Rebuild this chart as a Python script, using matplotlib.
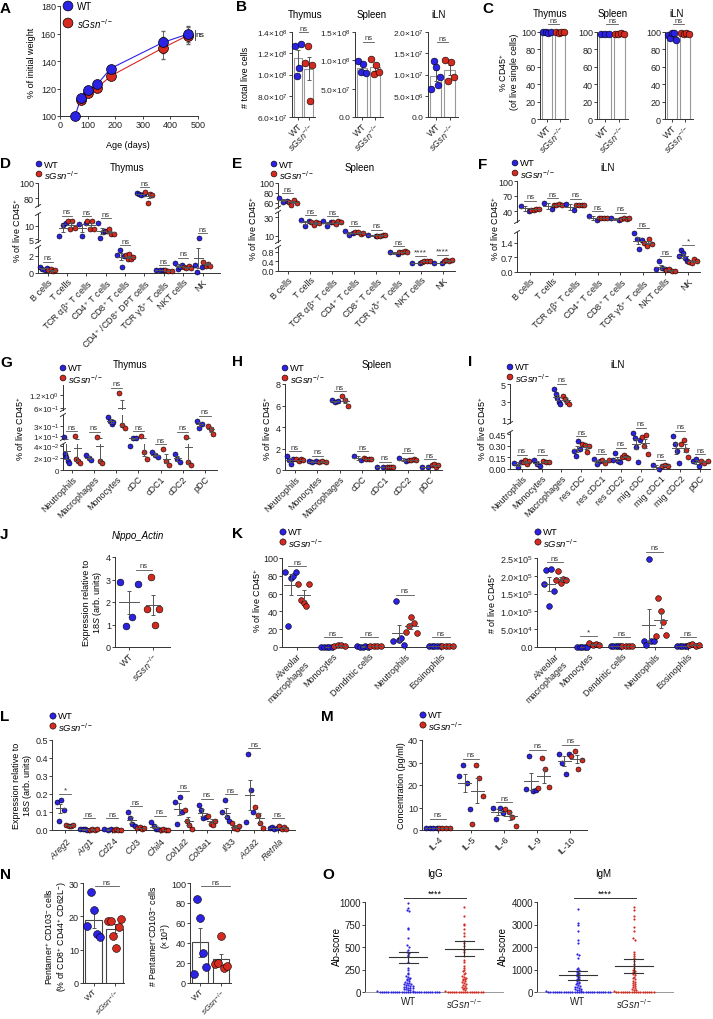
import numpy as np
import matplotlib

matplotlib.use("Agg")
import matplotlib.pyplot as plt

W, H = 713, 1020
WT_C = "#2b22e3"
KO_C = "#d52a1f"
GREY = "#555555"

plt.rcParams["font.family"] = ["Liberation Sans", "DejaVu Sans"]
plt.rcParams["mathtext.fontset"] = "custom"
plt.rcParams["mathtext.rm"] = "Liberation Sans"
plt.rcParams["mathtext.it"] = "Liberation Sans:italic"
plt.rcParams["mathtext.bf"] = "Liberation Sans:bold"
plt.rcParams["mathtext.fallback"] = "stixsans"
plt.rcParams["font.size"] = 6.5
plt.rcParams["axes.linewidth"] = 0.7

KO = r"$\mathit{sGsn}^{-/-}$"
POS = "$^{+}$"

# ---------------- data ----------------
# A: body weight
age_wt = [55, 75, 103, 135, 183, 373, 462]
weight_wt = [100, 113, 119, 123, 134.5, 153.5, 159.5]
weight_wt_sem = [0, 1, 1, 1, 1, 8, 6]
age_ko = [75, 103, 135, 183, 373, 462]
weight_ko = [112, 117, 120.5, 129, 149.5, 158.5]
weight_ko_sem = [1, 1, 1, 1, 8, 6]

# B: total live cells
organs = ["Thymus", "Spleen", "iLN"]
live_wt = [[1.27e8, 0.99e8, 1.06e8, 1.29e8],
           [0.98e8, 0.80e8, 0.93e8, 0.78e8],
           [0.67e7, 1.32e7, 1.17e7, 0.75e7, 0.95e7]]
live_ko = [[1.11e8, 1.27e8, 0.75e8, 1.09e8],
           [1.03e8, 0.76e8, 0.92e8, 0.79e8],
           [1.35e7, 0.85e7, 1.30e7, 0.93e7]]

# C: % CD45+
cd45_wt = [[99.6, 99.5, 99.4, 99.6], [97.5, 97.2, 97.8], [96, 93, 99, 98.5, 91]]
cd45_ko = [[99.5, 99.4, 99.6, 99.5], [97.4, 97.8, 98.6, 97.3], [98.5, 97.8, 99.2, 97.5]]

# D: thymus lymphocytes
cats_d = ["B cells", "T cells", "TCR αβ" + POS + " T cells", "CD4" + POS + " T cells",
          "CD8" + POS + " T cells", "CD4" + POS + " /CD8" + POS + " DPT cells",
          "TCR γδ" + POS + " T cells", "NKT cells", "NK"]
d_wt = [[0.75, 0.45, 0.35, 0.6], [6.3, 10.5, 11.0], [10.6, 6.3, 11.0], [11.0, 5.4, 7.8, 8.0],
        [2.1, 2.6, 0.75, 2.0], [87, 85, 84.5, 86], [0.3, 0.3, 0.3], [1.2, 0.5, 0.75, 0.9],
        [0.9, 0.15, 5.2, 0.7]]
d_ko = [[0.3, 0.45, 0.25, 0.3], [12.0, 9.0, 12.0, 9.2], [11.8, 9.0, 11.8, 9.0], [8.2, 9.0, 6.8, 6.8],
        [2.1, 1.6, 2.2, 1.6, 1.8], [88, 74, 85.5, 84.5], [0.3, 0.25, 0.25], [0.75, 0.55, 0.8, 0.6],
        [1.3, 0.8, 1.0, 0.85]]
d_sig = ["ns"] * 9

# F: iLN lymphocytes (also the category set of E)
cats_f = ["B cells", "T cells", "TCR αβ" + POS + " T cells", "CD4" + POS + " T cells",
          "CD8" + POS + " T cells", "TCR γδ" + POS + " T cells", "NKT cells", "NK"]
f_wt = [[51, 40], [56, 45], [55, 43], [30, 22], [27, 22], [1.85, 1.55, 1.07, 1.5],
        [0.15, 0.52, 0.2, 0.13], [0.75, 1.05, 0.88, 0.65, 0.5]]
f_ko = [[43, 43, 44, 43.5], [52, 53, 53.5, 52], [52, 53, 51.5, 52], [27, 27, 26.5, 27],
        [25, 26, 25, 26], [1.4, 1.25, 1.57, 1.33], [0.1, 0.12, 0.06, 0.05], [0.47, 0.45, 0.6, 0.5]]
f_sig = ["ns"] * 7 + ["*"]

# E: spleen lymphocytes
cats_e = cats_f
e_wt = [[69, 61, 64], [27, 20.5, 26], [26, 21, 25], [15, 11, 13], [11, 10],
        [0.8, 0.72], [0.32, 0.34], [0.35, 0.33]]
e_ko = [[62, 55, 65, 60], [24.5, 22, 25, 24], [24.5, 22.5, 26, 24.5], [13.5, 14, 12, 13],
        [10, 10, 10.5, 10.5], [0.8, 0.8, 0.82, 0.8], [0.38, 0.42, 0.4, 0.43],
        [0.42, 0.45, 0.43, 0.44]]
e_sig = ["ns"] * 6 + ["****", "****"]

# G: thymus myeloid
cats_g = ["Neutrophils", "Macrophages", "Monocytes", "cDC", "cDC1", "cDC2", "pDC"]
g_wt = [[0.085, 0.026, 0.021, 0.015, 0.011], [0.025, 0.02, 0.016], [0.47, 0.39, 0.33, 0.36],
        [0.04, 0.07, 0.07], [0.029, 0.025, 0.021], [0.026, 0.019, 0.013], [0.39, 0.26, 0.33]]
g_ko = [[0.1, 0.019, 0.015, 0.011], [0.095, 0.015, 0.011], [1.3, 0.31, 0.26],
        [0.1, 0.029, 0.019], [0.034, 0.015, 0.008], [0.095, 0.013, 0.008], [0.3, 0.24, 0.15]]
g_sig = ["ns"] * 7

# H: spleen myeloid
cats_h = ["Neutrophils", "Monocytes", "Macrophages", "cDC", "cDC1", "cDC2", "pDC"]
h_wt = [[1.3, 0.9, 0.55, 1.0], [0.85, 0.7, 0.8], [6.5, 6.3, 6.4], [1.3, 0.9],
        [0.3, 0.25], [1.1, 0.8], [0.3, 0.25]]
h_ko = [[1.0, 0.85, 1.0, 0.9], [0.7, 0.85, 0.7], [6.85, 6.5, 6.0], [1.1, 1.0, 1.05, 1.0],
        [0.3, 0.3, 0.3, 0.3], [0.95, 0.9, 1.0, 0.95], [0.45, 0.55, 0.3, 0.5]]
h_sig = ["ns"] * 7

# I: iLN myeloid
cats_i = ["Neutrophils", "Monocytes", "Macrophages", "res cDC", "res cDC1", "res cDC2",
          "mig cDC", "mig cDC1", "mig cDC2", "pDC"]
i_wt = [[0.08, 0.02, 0.09], [0.12, 0.065, 0.04], [4.45, 3.9, 3.4, 2.95, 2.75],
        [0.24, 0.17, 0.36, 0.26], [0.13, 0.065, 0.1], [0.12, 0.21, 0.11, 0.095],
        [0.47, 0.4, 0.29, 0.09, 0.38], [0.05, 0.005], [0.43, 0.32, 0.24, 0.08], [0.11, 0.13, 0.035]]
i_ko = [[0.09, 0.12, 0.065, 0.1], [0.11, 0.09, 0.09], [3.7, 3.35, 3.0, 2.75],
        [0.32, 0.31, 0.22, 0.3], [0.12, 0.08, 0.12], [0.16, 0.18, 0.16, 0.14],
        [0.41, 0.3, 0.44, 0.19], [0.045, 0.055, 0.045], [0.32, 0.37, 0.25, 0.15], [0.11, 0.08, 0.1]]
i_sig = ["ns"] * 10

# J: Nippo actin
nippo_wt = [2.9, 0.93, 1.33, 2.8]
nippo_ko = [1.67, 3.1, 1.0, 1.67]

# K: lung cells
cats_k = ["Alveolar\nmacrophages", "Monocytes", "Dendritic cells", "Neutrophils", "Eosinophils"]
kp_wt = [[84, 24, 78, 80, 84], [0.3, 0.3, 0.3, 0.3, 0.3], [0.6, 0.5, 0.5, 0.6, 0.5],
         [7, 52, 8, 10, 2], [1, 1.2, 0.8, 1.0, 0.9]]
kp_ko = [[71, 53, 50, 46, 71], [1.5, 2.2, 1.8, 1.0], [0.8, 0.9, 0.7, 0.8],
         [17, 24, 34, 27, 16], [1.2, 1.0, 1.1, 0.9]]
kp_sig = ["ns"] * 5
kn_wt = [[1.77e5, 2.17e5, 1.14e5, 2.19e5, 1.57e5], [1e3, 1e3, 1e3, 1e3, 1e3],
         [2e3, 1.5e3, 2.5e3, 2e3, 1.8e3], [1.7e4, 0.5e4, 2.48e5, 1.7e4, 1.8e4],
         [3e3, 4e3, 2e3, 3e3, 3.5e3]]
kn_ko = [[1.88e5, 2.14e5, 1.81e5, 1.90e5, 1.89e5], [1.1e4, 0.5e4, 0.8e4, 0.6e4],
         [3e3, 3.5e3, 2.5e3, 3e3], [3.1e4, 1.37e5, 1.0e5, 7.0e4, 3.5e4], [7e3, 8e3, 3e3, 6e3]]
kn_sig = ["ns", "*", "ns", "ns", "ns"]

# L: gene expression
genes = ["Areg2", "Arg1", "Ccl24", "Ccl3", "Chil4", "Col1a2", "Col3a1", "Il33", "Acta2", "Retnla"]
l_wt = [[0.155, 0.05, 0.165, 0.11], [0.003, 0.004, 0.003, 0.002], [0.003, 0.002, 0.003],
        [0.1, 0.065, 0.035, 0.025], [0.045, 0.02, 0.005, 0.003], [0.155, 0.035, 0.185, 0.1],
        [0.14, 0.11, 0.065, 0.07], [0.1, 0.165, 0.07, 0.05], [0.045, 0.42, 0.22, 0.1],
        [0.01, 0.015, 0.008, 0.012]]
l_ko = [[0.03, 0.025, 0.02, 0.03], [0.002, 0.003, 0.002, 0.003], [0.002, 0.003, 0.002, 0.002],
        [0.012, 0.015, 0.008, 0.01], [0.002, 0.003, 0.002, 0.002], [0.11, 0.05, 0.03, 0.005],
        [0.08, 0.035, 0.03, 0.05], [0.04, 0.01, 0.005, 0.02], [0.13, 0.085, 0.04, 0.01],
        [0.02, 0.005, 0.015, 0.008]]
l_sig = ["*"] + ["ns"] * 9

# M: cytokines
cytokines = ["IL-4", "IL-5", "IL-6", "IL-9", "IL-10"]
m_wt = [[1, 1, 1, 1], [24.1, 28.9, 20.8, 9.5], [9.7, 5.0, 9.8, 7.5],
        [18.3, 33, 17.5, 17.8], [34, 29.7, 25, 34]]
m_ko = [[1, 1, 1, 1], [2.7, 29, 23, 15.2], [9.3, 7.9, 5.6, 1.9],
        [18.7, 31.8, 27, 19], [33, 35.2, 27, 31]]
m_sig = ["ns"] * 5

# N: pentamer+ cells
pent_pct_wt = [17.1, 27.4, 22, 14.7, 13.7]
pent_pct_ko = [18.5, 18.5, 14.2, 10.4, 16.9, 19.2]
pent_num_wt = [8.9, 84, 65.5, 29.7, 16.3]
pent_num_ko = [19, 20, 46.6, 15, 17]

# O: antibody scores
igg_wt = [985, 930, 915, 905, 715, 695, 600, 520, 505, 470, 440, 430, 410, 400, 330, 270, 250,
          215, 200, 180, 170, 160, 150, 140, 130, 120, 110, 100, 95, 90, 85, 80, 75, 70, 65,
          60, 55, 50, 45, 40, 35, 30, 25, 20, 15, 10] + [0] * 28
igg_ko = [945, 850, 760, 740, 700, 660, 620, 570, 540, 510, 470, 440, 400, 360, 330, 290, 270,
          250, 230, 210, 195, 180, 170, 160, 150, 140, 130, 120, 110, 100, 90, 80, 70, 60, 50,
          40, 30, 20, 10] + [0] * 17
igm_wt = [3700, 3080, 2960, 2700, 2330, 2180, 1680, 1640, 1520, 1080, 1020, 980, 900, 860, 800,
          760, 700, 650, 600, 560, 500, 460, 420, 380, 340, 300, 270, 240, 210, 180, 150, 120,
          100, 80, 60, 40, 20] + [0] * 28
igm_ko = [3780, 3650, 3380, 3250, 2870, 2720, 2380, 2300, 1760, 1680, 1600, 1500, 1380, 1250,
          1160, 1080, 1000, 950, 900, 850, 800, 740, 680, 620, 560, 500, 450, 400, 350, 300,
          260, 220, 180, 140, 100, 70, 40, 20] + [0] * 17
igg_mean = [385, 483]
igg_sem = [65, 87]
igm_mean = [735, 1140]
igm_sem = [185, 310]

# ---------------- figure ----------------
fig = plt.figure(figsize=(W / 100, H / 100), dpi=100)
ov = fig.add_axes([0, 0, 1, 1], zorder=10)
ov.set_xlim(0, W)
ov.set_ylim(H, 0)
ov.axis("off")
ov.patch.set_alpha(0)


def add_ax(x0, y0, x1, y1):
    return fig.add_axes([x0 / W, 1 - y1 / H, (x1 - x0) / W, (y1 - y0) / H])


def style(ax, xaxis=True):
    for s in ("top", "right"):
        ax.spines[s].set_visible(False)
    for s in ("left", "bottom"):
        ax.spines[s].set_color("#333333")
    ax.tick_params(length=2, width=0.6, pad=1, labelsize=6.5, colors="#222222")
    if not xaxis:
        ax.spines["bottom"].set_visible(False)
        ax.tick_params(axis="x", bottom=False, labelbottom=False)


def label(x, y, letter):
    ov.text(x, y, letter, fontsize=11, fontweight="heavy", ha="left", va="top")


def legend(x, y, s=18, dy=10, fs=6.8):
    ov.scatter([x, x], [y, y + dy], s=s, c=[WT_C, KO_C], edgecolors="k", linewidths=0.4,
               clip_on=False)
    ov.text(x + 5, y, "WT", fontsize=fs, va="center")
    ov.text(x + 5, y + dy + 0.5, KO, fontsize=fs, va="center")


def vtext(x, y, s, fs=6.5):
    ov.text(x, y, s, rotation=90, ha="center", va="center", fontsize=fs, linespacing=1.1)


def break_mark(x, y):
    ov.plot([x - 2.5, x + 2.5], [y + 1.5, y - 1.5], color="#333333", lw=0.7, clip_on=False)


def strip(ax, pos, vals, color, spread, s, lo=-np.inf, hi=np.inf):
    vals = np.asarray(vals, float)
    n = len(vals)
    xs = pos + (np.linspace(-spread / 2, spread / 2, n) if n > 1 else np.zeros(1))
    keep = (vals >= lo) & (vals <= hi)
    ax.scatter(xs[keep], vals[keep], s=s, c=color, edgecolors="k", linewidths=0.4,
               zorder=3, clip_on=False)
    m = vals.mean()
    se = vals.std(ddof=1) / np.sqrt(n) if n > 1 else 0
    hw = spread / 2 + 0.04
    ax.plot([pos - hw, pos + hw], [m, m], color=GREY, lw=0.7, zorder=4)
    ax.errorbar([pos], [m], yerr=[se], fmt="none", ecolor=GREY, elinewidth=0.7,
                capsize=1.5, capthick=0.7, zorder=4)


def sig_mark(ax, x, y, text, hw=0.25, fs=5.5):
    ax.plot([x - hw, x + hw], [y, y], color=GREY, lw=0.6, clip_on=False)
    ax.annotate(text, (x, y), xytext=(0, 0.3), textcoords="offset points", ha="center",
                va="bottom", fontsize=fs, color="#333333", annotation_clip=False)


def seg_panel(x0, x1, xlim, segs, cats, wt, ko, sig, off=0.22, spread=0.36, s=13,
              lift=5, floor=None, ytick_fs=6.5):
    n = len(cats)
    axes = []
    for k, (ya, yb, lo, hi, ticks, tlabels) in enumerate(segs):
        ax = add_ax(x0, ya, x1, yb)
        style(ax, xaxis=(k == len(segs) - 1))
        ax.set_xlim(*xlim)
        ax.set_ylim(lo, hi)
        ax.set_yticks(ticks)
        ax.set_yticklabels(tlabels, fontsize=ytick_fs)
        for j in range(n):
            strip(ax, j - off, wt[j], WT_C, spread, s, lo, hi)
            strip(ax, j + off, ko[j], KO_C, spread, s, lo, hi)
        axes.append(ax)
    axes[-1].set_xticks(range(n))
    axes[-1].set_xticklabels(cats, rotation=45, ha="right", rotation_mode="anchor", fontsize=6.5)
    for k in range(len(segs) - 1):
        break_mark(x0, segs[k][1])
        break_mark(x0, segs[k + 1][0])
    for j in range(n):
        vmax = max(max(wt[j]), max(ko[j]))
        for ax, seg in zip(axes[::-1], segs[::-1]):
            if vmax <= seg[3]:
                break
        ppu = (seg[1] - seg[0]) / (seg[3] - seg[2])
        y = vmax + lift / ppu
        if floor is not None:
            y = max(y, floor)
        sig_mark(ax, j, y, sig[j], fs=6 if "*" in sig[j] else 5.5)
    return axes


def bar_pair(ax, wt, ko, s, ylo, ec="#999999"):
    for pos, vals, col in ((0, wt, WT_C), (1, ko, KO_C)):
        vals = np.asarray(vals, float)
        m = vals.mean()
        se = vals.std(ddof=1) / np.sqrt(len(vals))
        ax.bar(pos, m - ylo, bottom=ylo, width=0.8, color="white", edgecolor=ec,
               linewidth=0.8, zorder=1)
        ax.errorbar([pos], [m], yerr=[se], fmt="none", ecolor=GREY, elinewidth=0.7,
                    capsize=1.5, capthick=0.7, zorder=2)
        xs = pos + np.linspace(-0.3, 0.3, len(vals))
        ax.scatter(xs, vals, s=s, c=col, edgecolors="k", linewidths=0.4, zorder=3, clip_on=False)


def wt_ko_ticks(ax, rot=45, fs=6.5):
    ax.set_xticks([0, 1])
    if rot:
        ax.set_xticklabels(["WT", KO], rotation=rot, ha="right", rotation_mode="anchor", fontsize=fs)
    else:
        ax.set_xticklabels(["WT", KO], fontsize=fs)


def swarm_x(vals, center, ppu_y, ppu_x, dot=2.2):
    vals = np.asarray(vals, float)
    bins = np.round(vals * ppu_y / dot)
    xs = np.empty(len(vals))
    for b in np.unique(bins):
        idx = np.where(bins == b)[0]
        k = len(idx)
        xs[idx] = center + (np.arange(k) - (k - 1) / 2) * dot / ppu_x
    return xs


# ---- A ----
label(0, 2, "A")
ax = add_ax(60, 7, 198, 117)
style(ax)
ax.errorbar(age_wt, weight_wt, yerr=weight_wt_sem, fmt="none", ecolor="#666666", elinewidth=0.7,
            capsize=1.5, zorder=2)
ax.errorbar(age_ko, weight_ko, yerr=weight_ko_sem, fmt="none", ecolor="#666666", elinewidth=0.7,
            capsize=1.5, zorder=2)
ax.plot(age_wt, weight_wt, color=WT_C, lw=0.8, zorder=2)
ax.plot(age_ko, weight_ko, color=KO_C, lw=0.8, zorder=2)
ax.scatter(age_ko, weight_ko, s=50, c=KO_C, edgecolors="k", linewidths=0.5, zorder=3, clip_on=False)
ax.scatter(age_wt, weight_wt, s=50, c=WT_C, edgecolors="k", linewidths=0.5, zorder=4, clip_on=False)
ax.set_xlim(0, 500)
ax.set_ylim(100, 180)
ax.set_xticks(range(0, 501, 100))
ax.set_yticks(range(100, 181, 20))
ax.plot([488, 488], [155.5, 162.5], color="#333333", lw=0.6, clip_on=False)
ax.text(491, 159.5, "ns", fontsize=6, va="center", clip_on=False)
ov.text(128, 146, "Age (days)", ha="center", va="center", fontsize=6.5)
vtext(31, 63, "% of initial weight")
ov.scatter([68, 68], [7, 24], s=50, c=[WT_C, KO_C], edgecolors="k", linewidths=0.5)
ov.text(77, 7, "WT", fontsize=7, va="center")
ov.text(77, 24, KO, fontsize=7, va="center")

# ---- B ----
label(236, 0, "B")
b_boxes = [(292, 315), (355, 383), (428, 458)]
b_lims = [(6e7, 1.4e8), (0, 1.5e8), (0, 2e7)]
b_ticks = [[6e7, 8e7, 1e8, 1.2e8, 1.4e8], [0, 5e7, 1e8, 1.5e8], [0, 5e6, 1e7, 1.5e7, 2e7]]
b_tlab = [[r"$6.0{\times}10^{7}$", r"$8.0{\times}10^{7}$", r"$1.0{\times}10^{8}$",
           r"$1.2{\times}10^{8}$", r"$1.4{\times}10^{8}$"],
          ["0.0", r"$5.0{\times}10^{7}$", r"$1.0{\times}10^{8}$", r"$1.5{\times}10^{8}$"],
          ["0.0", r"$5.0{\times}10^{6}$", r"$1.0{\times}10^{7}$", r"$1.5{\times}10^{7}$",
           r"$2.0{\times}10^{7}$"]]
b_sig_y = [1.4e8, 1.33e8, 1.76e7]
b_title_x = [305, 372, 439]
for k in range(3):
    ax = add_ax(b_boxes[k][0], 33, b_boxes[k][1], 118)
    style(ax)
    ax.set_xlim(-0.55, 1.6)
    ax.set_ylim(*b_lims[k])
    ax.set_yticks(b_ticks[k])
    ax.set_yticklabels(b_tlab[k], fontsize=6)
    bar_pair(ax, live_wt[k], live_ko[k], 24, b_lims[k][0])
    wt_ko_ticks(ax)
    sig_mark(ax, 0.5, b_sig_y[k], "ns", hw=0.4)
    ov.text(b_title_x[k], 15, organs[k], ha="center", va="center", fontsize=7)
vtext(245, 77, "# total live cells")

# ---- C ----
label(482, 2, "C")
c_boxes = [(540, 568), (597, 628), (665, 693)]
c_title_x = [550, 613, 677]
for k in range(3):
    ax = add_ax(c_boxes[k][0], 33, c_boxes[k][1], 120)
    style(ax)
    ax.set_xlim(-0.55, 1.6)
    ax.set_ylim(0, 100)
    ax.set_yticks(range(0, 101, 20))
    bar_pair(ax, cd45_wt[k], cd45_ko[k], 24, 0)
    wt_ko_ticks(ax)
    sig_mark(ax, 0.5, 109, "ns", hw=0.4)
    ov.text(c_title_x[k], 14, organs[k], ha="center", va="center", fontsize=7)
vtext(508, 72, "% CD45" + POS + "\n(of live single cells)")

# ---- D ----
label(0, 157, "D")
legend(39, 165)
ov.text(127, 168, "Thymus", ha="center", va="center", fontsize=7)
seg_panel(38, 220, (-0.5, 8.9),
          [(184, 207, 70, 100, [80, 100], ["80", "100"]),
           (215, 243, 3.85, 14.6, [5, 10], ["5", "10"]),
           (248, 274, 0, 3, [0, 2], ["0", "2"])],
          cats_d, d_wt, d_ko, d_sig)
vtext(17, 230, "% of live CD45" + POS)

# ---- E ----
label(232, 157, "E")
legend(274, 165)
ov.text(360, 168, "Spleen", ha="center", va="center", fontsize=7)
seg_panel(278, 455, (-0.45, 7.55),
          [(184, 208.5, 50, 100, [60, 80, 100], ["60", "80", "100"]),
           (213, 243, 3, 36, [10, 30], ["10", "30"]),
           (248, 272, 0, 1.0, [0, 0.4, 0.8], ["0.0", "0.4", "0.8"])],
          cats_e, e_wt, e_ko, e_sig)
vtext(253, 228, "% of live CD45" + POS)

# ---- F ----
label(478, 158, "F")
legend(515, 164)
ov.text(608, 168, "iLN", ha="center", va="center", fontsize=7)
seg_panel(517, 700, (-0.58, 7.53),
          [(182, 223, 18, 100, [40, 70, 100], ["40", "70", "100"]),
           (233, 273, 0, 1.9, [0, 0.7, 1.4], ["0.0", "0.7", "1.4"])],
          cats_f, f_wt, f_ko, f_sig)
vtext(495, 228, "% of live CD45" + POS)

# ---- G ----
label(0, 356, "G")
legend(63, 369)
ov.text(130, 365, "Thymus", ha="center", va="center", fontsize=7)
seg_panel(63, 217, (-0.4, 6.54),
          [(386, 411, 0.52, 1.66, [0.6, 1.2], [r"$6{\times}10^{-1}$", r"$1.2{\times}10^{0}$"]),
           (416, 440, 0.05, 0.5, [0.1, 0.3], [r"$1{\times}10^{-1}$", r"$3{\times}10^{-1}$"]),
           (445, 471, 0, 0.043, [0, 0.02, 0.04], ["0", r"$2{\times}10^{-2}$", r"$4{\times}10^{-2}$"])],
          cats_g, g_wt, g_ko, g_sig, off=0.25, spread=0.25, ytick_fs=5.8)
vtext(20, 428, "% of live CD45" + POS)

# ---- H ----
label(232, 355, "H")
legend(285, 369)
ov.text(377, 365, "Spleen", ha="center", va="center", fontsize=7)
seg_panel(285, 442, (-0.44, 6.53),
          [(385, 471, 0, 8, [0, 2, 4, 6, 8], ["0", "2", "4", "6", "8"])],
          cats_h, h_wt, h_ko, h_sig, off=0.22, spread=0.3)
vtext(267, 428, "% of live CD45" + POS)

# ---- I ----
label(468, 355, "I")
legend(510, 368)
ov.text(618, 365, "iLN", ha="center", va="center", fontsize=7)
seg_panel(510, 710, (-0.6, 9.5),
          [(385, 424, 0.6, 5, [1, 3, 5], ["1", "3", "5"]),
           (433, 470, 0, 0.48, [0, 0.15, 0.30, 0.45], ["0.00", "0.15", "0.30", "0.45"])],
          cats_i, i_wt, i_ko, i_sig, off=0.22, spread=0.32)
vtext(482, 428, "% of live CD45" + POS)

# ---- J ----
label(0, 528, "J")
ov.text(138, 536, "Nippo_Actin", ha="center", va="center", fontsize=7, style="italic")
ax = add_ax(115, 558, 170, 648)
style(ax)
ax.set_xlim(-0.58, 1.71)
ax.set_ylim(0, 4)
ax.set_yticks(range(5))
strip(ax, 0, nippo_wt, WT_C, 0.75, 24)
strip(ax, 1, nippo_ko, KO_C, 0.5, 24)
wt_ko_ticks(ax)
sig_mark(ax, 0.62, 3.44, "ns", hw=0.34)
vtext(93, 603, "Expression relative to\n" + r"$\mathit{18S}$ (arb. units)")

# ---- K ----
label(232, 527, "K")
legend(283, 533, s=20)
seg_panel(282, 455, (-0.42, 4.39),
          [(559, 648, 0, 100, range(0, 101, 20), [str(v) for v in range(0, 101, 20)])],
          cats_k, kp_wt, kp_ko, kp_sig, off=0.18, spread=0.3, s=17, lift=6, floor=11)
vtext(257, 600, "% of live CD45" + POS)
legend(538, 533, s=20)
seg_panel(537, 702, (-0.54, 4.42),
          [(559, 648, 0, 2.5e5, [0, 5e4, 1e5, 1.5e5, 2e5, 2.5e5],
            ["0.0", r"$5.0{\times}10^{4}$", r"$1.0{\times}10^{5}$", r"$1.5{\times}10^{5}$",
             r"$2.0{\times}10^{5}$", r"$2.5{\times}10^{5}$"])],
          cats_k, kn_wt, kn_ko, kn_sig, off=0.18, spread=0.3, s=17, lift=7, floor=2.8e4)
vtext(492, 603, "# of live CD45" + POS)

# ---- L ----
label(0, 710, "L")
legend(53, 717, s=20)
seg_panel(52, 295, (-0.55, 9.72),
          [(741, 831, 0, 0.5, [0, 0.1, 0.2, 0.3, 0.4, 0.5],
            ["0.0", "0.1", "0.2", "0.3", "0.4", "0.5"])],
          [r"$\mathit{%s}$" % g for g in genes], l_wt, l_ko, l_sig,
          off=0.2, spread=0.3, lift=6, floor=0.065)
vtext(23, 786, "Expression relative to\n" + r"$\mathit{18S}$ (arb. units)")

# ---- M ----
label(321, 710, "M")
legend(423, 716, s=20)
seg_panel(422, 587, (-0.48, 4.5),
          [(741, 831, 0, 40, [0, 10, 20, 30, 40], ["0", "10", "20", "30", "40"])],
          cytokines, m_wt, m_ko, m_sig, off=0.19, spread=0.32, lift=6, floor=5)
vtext(401, 786, "Concentration (pg/ml)")

# ---- N ----
label(0, 868, "N")
ax = add_ax(83, 884, 124, 984)
style(ax)
ax.set_xlim(-0.51, 1.44)
ax.set_ylim(0, 30)
ax.set_yticks([0, 10, 20, 30])
bar_pair(ax, pent_pct_wt, pent_pct_ko, 32, 0, ec="#444444")
wt_ko_ticks(ax, fs=6)
sig_mark(ax, 0.63, 29.1, "ns", hw=0.55)
vtext(56, 936, "Pentamer" + POS + " CD103$^{-}$ cells\n(% of CD8" + POS + " CD44" + POS +
      " CD62L$^{-}$)", fs=6.3)
ax = add_ax(190, 884, 231, 984)
style(ax)
ax.set_xlim(-0.5, 1.5)
ax.set_ylim(0, 100)
ax.set_yticks(range(0, 101, 20))
bar_pair(ax, pent_num_wt, pent_num_ko, 32, 0, ec="#444444")
wt_ko_ticks(ax, fs=6)
sig_mark(ax, 0.75, 97, "ns", hw=0.7)
vtext(160, 936, "# Pentamer" + POS + "CD103$^{-}$ cells\n" + r"($\times$10$^{3}$)", fs=6.3)

# ---- O ----
label(322, 868, "O")
o_sets = [(365, 503, -0.77, 1000, [0, 250, 500, 750, 1000], igg_wt, igg_ko, igg_mean, igg_sem,
           "IgG", 435, 337),
          (537, 673, -0.73, 4000, [0, 1000, 2000, 3000, 4000], igm_wt, igm_ko, igm_mean, igm_sem,
           "IgM", 603, 503)]
for xa, xb, xl, ymax, ticks, vw, vk, means, sems, title, tx, lx in o_sets:
    ax = add_ax(xa, 903, xb, 993)
    style(ax)
    ax.spines["bottom"].set_color("#999999")
    ax.set_xlim(xl, xl + (xb - xa) / 56)
    ax.set_ylim(0, ymax)
    ax.set_yticks(ticks)
    ax.set_yticklabels([str(t) for t in ticks], fontsize=7)
    ppu_y = 90 / ymax
    for pos, vals, col in ((0, vw, WT_C), (1, vk, KO_C)):
        xs = swarm_x(vals, pos, ppu_y, 56)
        ax.scatter(xs, vals, s=2.5, c=col, linewidths=0, zorder=3, clip_on=False)
        m, se = means[pos], sems[pos]
        ax.plot([pos - 0.34, pos + 0.34], [m, m], color="#333333", lw=0.8, zorder=4)
        ax.plot([pos - 0.17, pos + 0.17], [m + se, m + se], color="#333333", lw=0.8, zorder=4)
        ax.plot([pos - 0.17, pos + 0.17], [m - se, m - se], color="#333333", lw=0.8, zorder=4)
        ax.plot([pos, pos], [m - se, m + se], color="#333333", lw=0.8, zorder=4)
    wt_ko_ticks(ax, rot=0, fs=7)
    ax.tick_params(axis="x", length=0, pad=3)
    ax.plot([-0.07, 1.03], [ymax * 1.044] * 2, color="#333333", lw=0.7, clip_on=False)
    ax.text(0.48, ymax * 1.05, "****", ha="center", va="bottom", fontsize=6.5, clip_on=False)
    ov.text(tx, 874, title, ha="center", va="center", fontsize=7)
    vtext(lx, 947, "Ab-score", fs=7)

fig.savefig("out.png", dpi=100)
